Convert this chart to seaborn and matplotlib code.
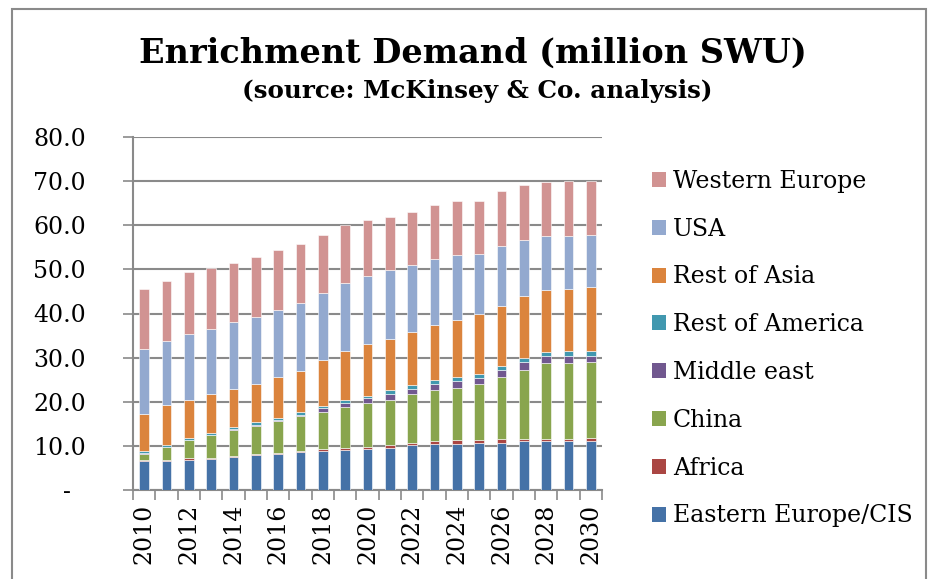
import matplotlib
matplotlib.use("Agg")
import matplotlib.pyplot as plt
import seaborn as sns
import numpy as np
from matplotlib.patches import Patch, Rectangle
from matplotlib.ticker import FuncFormatter

# ── data (million SWU) ─────────────────────────────────────────────
years = list(range(2010, 2031))
eastern_europe = [6.6, 6.6, 6.9, 7.1, 7.4, 8.0, 8.2, 8.5, 8.8, 9.1, 9.2,
                  9.6, 10.1, 10.5, 10.5, 10.7, 10.7, 11.0, 11.0, 11.0, 11.0]
africa = [0.3, 0.3, 0.3, 0.2, 0.4, 0.2, 0.2, 0.3, 0.5, 0.5, 0.6,
          0.5, 0.6, 0.5, 0.8, 0.6, 0.9, 0.6, 0.6, 0.6, 0.8]
china = [1.3, 2.8, 4.1, 5.1, 5.8, 6.4, 7.2, 7.9, 8.3, 9.2, 9.9,
         10.4, 11.0, 11.6, 11.9, 12.7, 13.9, 15.7, 17.1, 17.1, 17.2]
middle_east = [0.2, 0.1, 0.1, 0.1, 0.3, 0.2, 0.3, 0.3, 0.9, 0.9, 1.1,
               1.3, 1.2, 1.5, 1.5, 1.4, 1.8, 1.7, 1.7, 1.7, 1.4]
rest_of_america = [0.5, 0.3, 0.4, 0.5, 0.4, 0.6, 0.5, 0.6, 0.6, 0.8, 0.6,
                   0.8, 0.8, 0.9, 0.9, 0.9, 0.9, 0.9, 0.9, 1.2, 1.2]
rest_of_asia = [8.4, 9.1, 8.7, 8.7, 8.6, 8.7, 9.1, 9.4, 10.3, 11.0, 11.8,
                11.7, 12.1, 12.5, 13.0, 13.5, 13.6, 14.0, 14.0, 13.9, 14.3]
usa = [14.6, 14.5, 14.9, 14.9, 15.1, 15.1, 15.4, 15.4, 15.3, 15.3, 15.4,
       15.6, 15.3, 14.8, 14.6, 13.7, 13.4, 12.8, 12.2, 12.0, 11.9]
western_europe = [13.7, 13.6, 14.0, 13.6, 13.4, 13.7, 13.4, 13.4, 13.2, 13.2, 12.7,
                  12.0, 12.0, 12.2, 12.2, 12.1, 12.5, 12.4, 12.3, 12.5, 12.2]

regions = ["Eastern Europe/CIS", "Africa", "China", "Middle east",
           "Rest of America", "Rest of Asia", "USA", "Western Europe"]
series = [eastern_europe, africa, china, middle_east,
          rest_of_america, rest_of_asia, usa, western_europe]
colors = ["#4572A7", "#AA4643", "#89A54E", "#71588F",
          "#4198AF", "#DB843D", "#93A9CF", "#D19392"]

GRAY = "#8a8a8a"

sns.set_theme(style="white")
plt.rcParams["font.family"] = ["DejaVu Serif"]
plt.rcParams["text.color"] = "black"

fig = plt.figure(figsize=(9.32, 5.79), dpi=100)
ax = fig.add_axes([133 / 932, 89 / 579, 469 / 932, 353 / 579])

# ── stacked bars ───────────────────────────────────────────────────
year_labels = [str(y) for y in years]
bottom = np.zeros(len(years))
for name, vals, col in zip(regions, series, colors):
    sns.barplot(x=year_labels, y=vals, bottom=bottom, color=col, saturation=1,
                width=0.44, errorbar=None, edgecolor="white", linewidth=0.4,
                zorder=3, ax=ax)
    bottom = bottom + np.array(vals)

ax.set_xlim(-0.5, len(years) - 0.5)
ax.set_ylim(0, 80)
ax.set_xlabel("")
ax.set_ylabel("")

# y axis
ax.set_yticks(np.arange(0, 81, 10))
ax.yaxis.set_major_formatter(FuncFormatter(lambda v, p: "-  " if v == 0 else f"{v:.1f}"))
ax.tick_params(axis="y", length=7, width=1.2, color=GRAY, pad=27,
               labelsize=17, labelcolor="black", left=True)
ax.yaxis.grid(True, color=GRAY, linewidth=1.5, zorder=0)
ax.set_axisbelow(True)

# x axis: labels on every other bar, tick marks between categories
ax.set_xticks(range(0, len(years), 2))
ax.set_xticklabels(year_labels[::2], rotation=90)
ax.set_xticks(np.arange(-0.5, len(years), 1), minor=True)
ax.tick_params(axis="x", which="major", length=0, pad=10, labelsize=17, labelcolor="black")
ax.tick_params(axis="x", which="minor", length=7, width=1.2, color=GRAY, bottom=True)

for side in ["top", "right"]:
    ax.spines[side].set_visible(False)
for side in ["left", "bottom"]:
    ax.spines[side].set_color(GRAY)
    ax.spines[side].set_linewidth(1.5)

# ── legend (top to bottom = top of stack to bottom) ────────────────
handles = [Patch(facecolor=c, edgecolor="none") for c in colors[::-1]]
fig.legend(handles, regions[::-1], loc="upper left",
           bbox_to_anchor=(640 / 932, 1 - 158 / 579), frameon=False,
           fontsize=17, handlelength=0.6, handleheight=0.6,
           handletextpad=0.3, labelspacing=1.05, borderpad=0)

# ── titles, fitted to the reference widths ─────────────────────────
t1 = fig.text(473 / 932, 1 - 53 / 579, "Enrichment Demand (million SWU)",
              ha="center", va="center", fontsize=24, fontweight="bold", color="black")
t2 = fig.text(477 / 932, 1 - 91 / 579, "(source: McKinsey & Co. analysis)",
              ha="center", va="center", fontsize=14, fontweight="bold", color="black")
renderer = fig.canvas.get_renderer()
for t, target in [(t1, 670), (t2, 470)]:
    w = t.get_window_extent(renderer).width
    t.set_fontsize(t.get_fontsize() * target / w)

# chart-area frame
fig.add_artist(Rectangle((12 / 932, -0.02), 914 / 932, 1 - 9 / 579 + 0.02,
                         transform=fig.transFigure, fill=False,
                         edgecolor=GRAY, linewidth=1.5))

fig.savefig("out.png", dpi=100)
